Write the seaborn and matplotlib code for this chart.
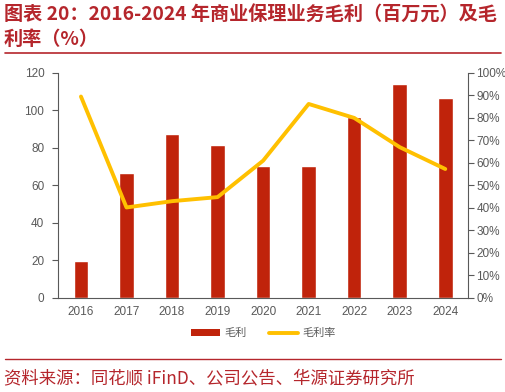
import numpy as np
import pandas as pd
import seaborn as sns
import matplotlib.pyplot as plt
from matplotlib.patches import Patch
from matplotlib.lines import Line2D
from matplotlib.ticker import MultipleLocator, FuncFormatter

years = ['2016', '2017', '2018', '2019', '2020', '2021', '2022', '2023', '2024']
gross_profit = [19.8, 66.5, 87.5, 81.8, 70.4, 70.2, 96.5, 114.0, 106.8]
margin_pct = [89.5, 40.2, 43.0, 44.8, 61.0, 86.2, 80.0, 67.0, 57.3]

title = '图表 20：2016-2024 年商业保理业务毛利（百万元）及毛\n利率（%）'
source = '资料来源：同花顺 iFinD、公司公告、华源证券研究所'

bar_color = '#C0230B'
line_color = '#FFC000'
red = '#B5262C'
grey = '#595959'

sns.set_style('white')
plt.rcParams['font.family'] = ['Noto Sans CJK SC', 'DejaVu Sans']

df = pd.DataFrame({'year': years, 'profit': gross_profit, 'margin': margin_pct})

fig = plt.figure(figsize=(5.06, 3.92), dpi=100)
ax = fig.add_axes([0.115, 0.240, 0.810, 0.574])

sns.barplot(data=df, x='year', y='profit', color=bar_color, width=0.32,
            saturation=1, ax=ax)
ax.set_ylim(0, 120)
ax.yaxis.set_major_locator(MultipleLocator(20))
ax.set_xlim(-0.5, len(years) - 0.5)
ax.set_xlabel('')
ax.set_ylabel('')

ax2 = ax.twinx()
sns.lineplot(x=np.arange(len(years)), y=df['margin'], color=line_color,
             linewidth=2.8, ax=ax2)
ax2.set_ylim(0, 100)
ax2.yaxis.set_major_locator(MultipleLocator(10))
ax2.yaxis.set_major_formatter(FuncFormatter(lambda v, p: f'{v:.0f}%'))
ax2.set_ylabel('')
ax2.set_xlim(-0.5, len(years) - 0.5)

for a in (ax, ax2):
    for s in a.spines.values():
        s.set_visible(False)
    a.tick_params(labelsize=8.5, labelcolor=grey, color=grey, length=4, width=0.8)
    for lab in a.get_xticklabels() + a.get_yticklabels():
        lab.set_family(['Liberation Sans', 'DejaVu Sans'])
ax.spines['left'].set_visible(True)
ax.spines['bottom'].set_visible(True)
ax2.spines['right'].set_visible(True)
for s in (ax.spines['left'], ax.spines['bottom'], ax2.spines['right']):
    s.set_color(grey)
    s.set_linewidth(0.8)

ax.tick_params(axis='x', length=0, pad=6)
ax.set_xticks(np.arange(len(years) + 1) - 0.5, minor=True)
ax.tick_params(axis='x', which='minor', direction='inout', length=5, color=grey)
ax.tick_params(axis='y', direction='out', pad=6)
ax2.tick_params(axis='y', direction='out', pad=2)

handles = [Patch(facecolor=bar_color, edgecolor='none'),
           Line2D([0], [0], color=line_color, linewidth=2.8)]
fig.legend(handles, ['毛利', '毛利率'], loc='center', bbox_to_anchor=(0.52, 0.150),
           ncol=2, frameon=False, fontsize=8, handlelength=2.6, handleheight=0.5,
           columnspacing=2.0, handletextpad=0.4, labelcolor=grey)

fig.text(0.008, 0.985, title, ha='left', va='top', fontsize=13.8,
         fontweight='bold', color=red, linespacing=1.35)
fig.add_artist(Line2D([0.01, 0.99], [0.866, 0.866], color=red, linewidth=1.2))
fig.add_artist(Line2D([0.01, 0.99], [0.085, 0.085], color=red, linewidth=1.0))
fig.text(0.008, 0.035, source, ha='left', va='center', fontsize=12.5, color=red)

fig.savefig('out.png', dpi=100)
